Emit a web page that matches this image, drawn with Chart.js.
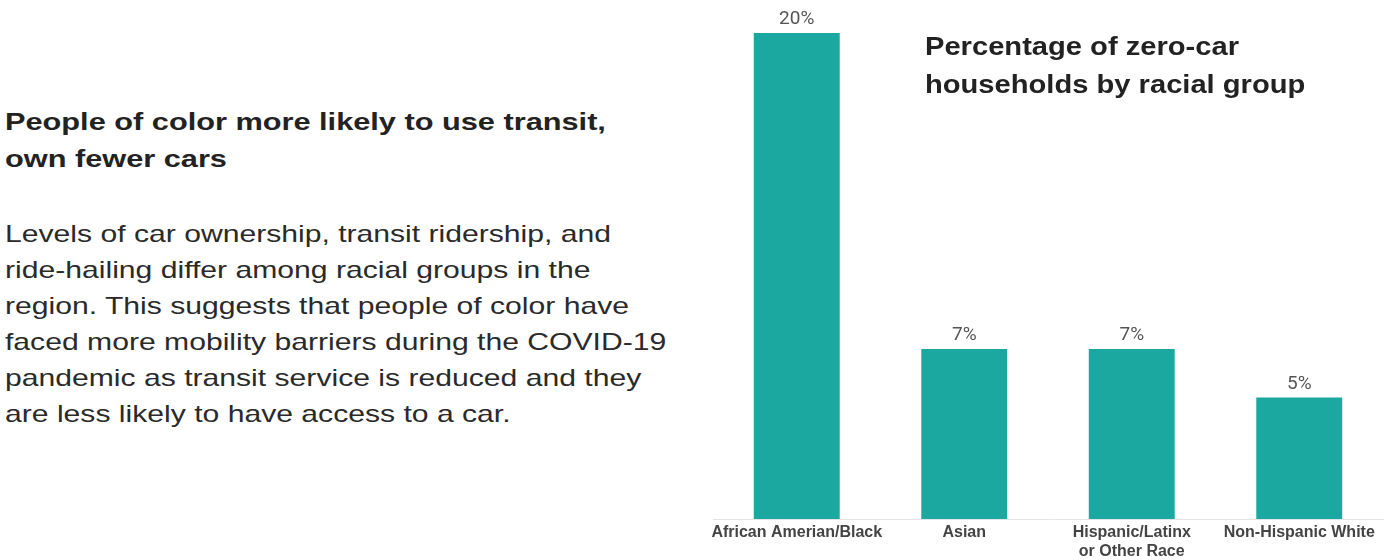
<!DOCTYPE html>
<html>
<head>
<meta charset="utf-8">
<script src="https://cdn.jsdelivr.net/npm/chart.js@4"></script>
<style>
  html, body { margin: 0; padding: 0; background: #fff; }
  body { width: 1392px; height: 560px; position: relative; overflow: hidden; font-family: "Liberation Sans", Arial, sans-serif; }
  #intro { position: absolute; left: 5px; top: 103px; color: #222; white-space: nowrap; }
  #intro h2 { margin: 0; font-size: 24px; font-weight: 700; line-height: 37px; transform: scaleX(1.28); transform-origin: left top; }
  #intro p { margin: 39px 0 0 0; font-size: 24px; font-weight: 400; line-height: 36px; color: #2a2a2a; transform: scaleX(1.255); transform-origin: left top; }
  #chartTitle { position: absolute; left: 925px; top: 27px; font-size: 25px; font-weight: 700; line-height: 38px; color: #222; white-space: nowrap; transform: scaleX(1.165); transform-origin: left top; }
  #wrap { position: absolute; left: 700px; top: 0; width: 692px; height: 560px; }
</style>
</head>
<body>
<div id="intro">
  <h2>People of color more likely to use transit,<br>own fewer cars</h2>
  <p>Levels of car ownership, transit ridership, and<br>ride-hailing differ among racial groups in the<br>region. This suggests that people of color have<br>faced more mobility barriers during the COVID-19<br>pandemic as transit service is reduced and they<br>are less likely to have access to a car.</p>
</div>
<div id="wrap"><canvas id="barChart"></canvas></div>
<div id="chartTitle">Percentage of zero-car<br>households by racial group</div>
<script>
// categories and values
const groups = ['African Amerian/Black', 'Asian', ['Hispanic/Latinx', 'or Other Race'], 'Non-Hispanic White'];
const zeroCarPct = [20, 7, 7, 5];

// draw the % labels above each bar
const valueLabels = {
  id: 'valueLabels',
  afterDatasetsDraw(chart) {
    const ctx = chart.ctx;
    const meta = chart.getDatasetMeta(0);
    ctx.save();
    ctx.font = '400 19px Roboto, sans-serif';
    ctx.fillStyle = '#555';
    ctx.textAlign = 'center';
    ctx.textBaseline = 'bottom';
    meta.data.forEach((bar, i) => {
      ctx.fillText(zeroCarPct[i] + '%', bar.x, bar.y - 4);
    });
    ctx.restore();
  }
};

new Chart(document.getElementById('barChart'), {
  type: 'bar',
  data: {
    labels: groups,
    datasets: [{
      data: zeroCarPct,
      backgroundColor: '#1ba8a0',
      barPercentage: 0.513,
      categoryPercentage: 1
    }]
  },
  options: {
    responsive: true,
    maintainAspectRatio: false,
    animation: false,
    layout: {padding: {top: 33, left: 13, right: 9, bottom: 0}},
    plugins: {legend: {display: false}, tooltip: {enabled: false}},
    scales: {
      y: {display: false, min: 0, max: 20},
      x: {
        grid: {display: false, drawTicks: false},
        border: {display: true, color: '#e4e4e4', width: 1},
        ticks: {
          autoSkip: false, maxRotation: 0, padding: 4,
          color: '#444',
          font: {family: '"Liberation Sans", Arial, sans-serif', size: 16, weight: 'bold', lineHeight: 1.2}
        },
        afterFit(scale) { scale.height = 41; }
      }
    }
  },
  plugins: [valueLabels]
});
</script>
</body>
</html>
